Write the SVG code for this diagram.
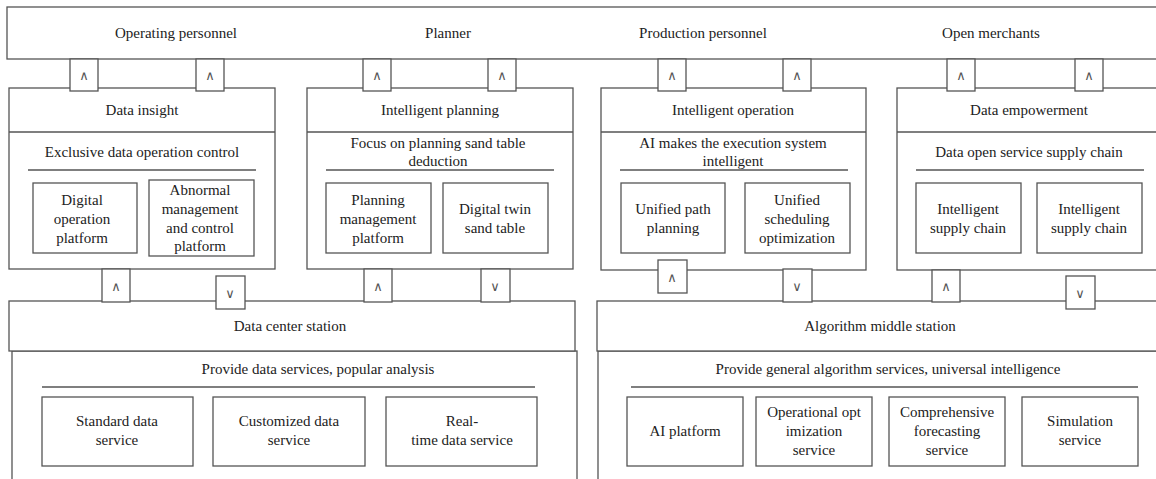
<svg xmlns="http://www.w3.org/2000/svg" width="1156" height="479" viewBox="0 0 1156 479">
<style>
.b{fill:#fff;stroke:#555;stroke-width:1.3}
.ln{stroke:#555;stroke-width:1.3;fill:none}
.t{font-family:"Liberation Serif","Times New Roman",serif;font-size:15px;fill:#222;text-anchor:middle}
.a{font-family:"DejaVu Sans",sans-serif;font-size:13px;fill:#555;text-anchor:middle}
</style>
<rect width="1156" height="479" fill="#fff"/>

<g id="users">
<rect class="b" x="7" y="7" width="1160" height="52"/>
<text class="t" x="176" y="38">Operating personnel</text>
<text class="t" x="448" y="38">Planner</text>
<text class="t" x="703" y="38">Production personnel</text>
<text class="t" x="991" y="38">Open merchants</text>
</g>

<g id="data-insight">
<rect class="b" x="9" y="88" width="266" height="181"/>
<line class="ln" x1="9" y1="132" x2="275" y2="132"/>
<text class="t" x="142" y="115">Data insight</text>
<text class="t" x="142" y="157">Exclusive data operation control</text>
<line class="ln" x1="28" y1="170" x2="256" y2="170"/>
<rect class="b" x="33" y="183" width="104" height="70"/>
<text class="t" x="82" y="205">Digital</text>
<text class="t" x="82" y="224">operation</text>
<text class="t" x="82" y="243">platform</text>
<rect class="b" x="149" y="180" width="105" height="76"/>
<text class="t" x="200" y="195">Abnormal</text>
<text class="t" x="200" y="214">management</text>
<text class="t" x="200" y="233">and control</text>
<text class="t" x="200" y="251">platform</text>
</g>

<g id="intelligent-planning">
<rect class="b" x="307" y="88" width="266" height="181"/>
<line class="ln" x1="307" y1="132" x2="573" y2="132"/>
<text class="t" x="440" y="115">Intelligent planning</text>
<text class="t" x="438" y="148">Focus on planning sand table</text>
<text class="t" x="438" y="166">deduction</text>
<line class="ln" x1="326" y1="170" x2="554" y2="170"/>
<rect class="b" x="326" y="183" width="105" height="70"/>
<text class="t" x="378" y="205">Planning</text>
<text class="t" x="378" y="224">management</text>
<text class="t" x="378" y="243">platform</text>
<rect class="b" x="443" y="183" width="105" height="70"/>
<text class="t" x="495" y="214">Digital twin</text>
<text class="t" x="495" y="233">sand table</text>
</g>

<g id="intelligent-operation">
<rect class="b" x="601" y="88" width="265" height="182"/>
<line class="ln" x1="601" y1="132" x2="866" y2="132"/>
<text class="t" x="733" y="115">Intelligent operation</text>
<text class="t" x="733" y="148">AI makes the execution system</text>
<text class="t" x="733" y="166">intelligent</text>
<line class="ln" x1="620" y1="170" x2="848" y2="170"/>
<rect class="b" x="621" y="183" width="104" height="70"/>
<text class="t" x="673" y="214">Unified path</text>
<text class="t" x="673" y="233">planning</text>
<rect class="b" x="745" y="183" width="105" height="70"/>
<text class="t" x="797" y="205">Unified</text>
<text class="t" x="797" y="224">scheduling</text>
<text class="t" x="797" y="243">optimization</text>
</g>

<g id="data-empowerment">
<rect class="b" x="897" y="88" width="270" height="182"/>
<line class="ln" x1="897" y1="132" x2="1167" y2="132"/>
<text class="t" x="1029" y="115">Data empowerment</text>
<text class="t" x="1029" y="157">Data open service supply chain</text>
<line class="ln" x1="916" y1="170" x2="1144" y2="170"/>
<rect class="b" x="916" y="183" width="105" height="70"/>
<text class="t" x="968" y="214">Intelligent</text>
<text class="t" x="968" y="233">supply chain</text>
<rect class="b" x="1037" y="183" width="105" height="70"/>
<text class="t" x="1089" y="214">Intelligent</text>
<text class="t" x="1089" y="233">supply chain</text>
</g>

<g id="data-center-station">
<rect class="b" x="12" y="351" width="565" height="140"/>
<rect class="b" x="9" y="301" width="566" height="50"/>
<text class="t" x="290" y="331">Data center station</text>
<text class="t" x="318" y="374">Provide data services, popular analysis</text>
<line class="ln" x1="42" y1="387" x2="535" y2="387"/>
<rect class="b" x="42" y="397" width="151" height="69"/>
<text class="t" x="117" y="426">Standard data</text>
<text class="t" x="117" y="445">service</text>
<rect class="b" x="213" y="397" width="152" height="69"/>
<text class="t" x="289" y="426">Customized data</text>
<text class="t" x="289" y="445">service</text>
<rect class="b" x="386" y="397" width="151" height="69"/>
<text class="t" x="462" y="426">Real-</text>
<text class="t" x="462" y="445">time data service</text>
</g>

<g id="algorithm-middle-station">
<rect class="b" x="598" y="351" width="570" height="140"/>
<rect class="b" x="597" y="301" width="570" height="50"/>
<text class="t" x="880" y="331">Algorithm middle station</text>
<text class="t" x="888" y="374">Provide general algorithm services, universal intelligence</text>
<line class="ln" x1="631" y1="387" x2="1138" y2="387"/>
<rect class="b" x="627" y="397" width="116" height="69"/>
<text class="t" x="685" y="436">AI platform</text>
<rect class="b" x="756" y="397" width="116" height="69"/>
<text class="t" x="814" y="417">Operational opt</text>
<text class="t" x="814" y="436">imization</text>
<text class="t" x="814" y="455">service</text>
<rect class="b" x="889" y="397" width="116" height="69"/>
<text class="t" x="947" y="417">Comprehensive</text>
<text class="t" x="947" y="436">forecasting</text>
<text class="t" x="947" y="455">service</text>
<rect class="b" x="1022" y="397" width="116" height="69"/>
<text class="t" x="1080" y="426">Simulation</text>
<text class="t" x="1080" y="445">service</text>
</g>

<g id="connectors">
<rect class="b" x="70" y="59" width="28" height="32"/><text class="a" x="84" y="80">∧</text>
<rect class="b" x="196" y="59" width="28" height="32"/><text class="a" x="210" y="80">∧</text>
<rect class="b" x="363" y="59" width="28" height="32"/><text class="a" x="377" y="80">∧</text>
<rect class="b" x="488" y="59" width="28" height="32"/><text class="a" x="502" y="80">∧</text>
<rect class="b" x="658" y="59" width="28" height="32"/><text class="a" x="672" y="80">∧</text>
<rect class="b" x="783" y="59" width="28" height="32"/><text class="a" x="797" y="80">∧</text>
<rect class="b" x="947" y="59" width="28" height="32"/><text class="a" x="961" y="80">∧</text>
<rect class="b" x="1075" y="59" width="28" height="32"/><text class="a" x="1089" y="80">∧</text>

<rect class="b" x="102" y="269" width="28" height="33"/><text class="a" x="116" y="291">∧</text>
<rect class="b" x="216" y="276" width="29" height="33"/><text class="a" x="230" y="298">∨</text>
<rect class="b" x="364" y="269" width="28" height="33"/><text class="a" x="378" y="291">∧</text>
<rect class="b" x="481" y="269" width="29" height="33"/><text class="a" x="495" y="291">∨</text>
<rect class="b" x="658" y="260" width="29" height="33"/><text class="a" x="672" y="282">∧</text>
<rect class="b" x="783" y="269" width="29" height="33"/><text class="a" x="797" y="291">∨</text>
<rect class="b" x="932" y="270" width="28" height="32"/><text class="a" x="946" y="291">∧</text>
<rect class="b" x="1066" y="276" width="29" height="33"/><text class="a" x="1080" y="298">∨</text>
</g>
</svg>
